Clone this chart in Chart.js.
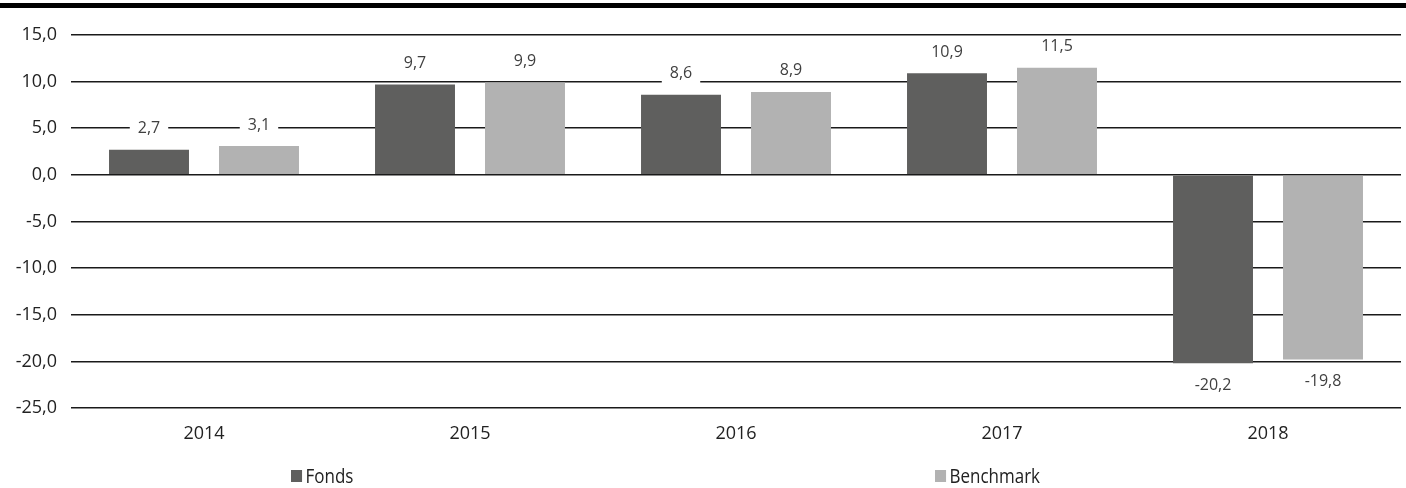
<!DOCTYPE html>
<html>
<head>
<meta charset="utf-8">
<script src="https://cdn.jsdelivr.net/npm/chart.js@4"></script>
<style>
  body { margin: 0; background: #fff; font-family: "Open Sans", sans-serif; }
  #wrap { position: relative; width: 1406px; height: 488px; }
  #topbar { position: absolute; left: 0; top: 3px; width: 1406px; height: 5px; background: #000; }
  .leg { position: absolute; top: 463px; font-size: 20px; line-height: 26px; color: #222; display: flex; align-items: center; transform: scaleX(0.85); transform-origin: left center; }
  .leg span.box { display: inline-block; width: 13px; height: 12px; margin-right: 4px; }
</style>
</head>
<body>
<div id="wrap">
  <canvas id="perfChart" width="1406" height="488"></canvas>
  <div id="topbar"></div>
  <div class="leg" style="left:291px"><span class="box" style="background:#5f5f5e"></span>Fonds</div>
  <div class="leg" style="left:935px"><span class="box" style="background:#b2b2b2"></span>Benchmark</div>
</div>
<script>
const years = ["2014", "2015", "2016", "2017", "2018"];
const fonds = [2.7, 9.7, 8.6, 10.9, -20.2];
const benchmark = [3.1, 9.9, 8.9, 11.5, -19.8];
const yTicks = [15, 10, 5, 0, -5, -10, -15, -20, -25];

const fmt = (v) => v.toFixed(1).replace(".", ",");

// value labels with white box over the gridlines
const valueLabels = {
  id: "valueLabels",
  afterDatasetsDraw(chart) {
    const c = chart.ctx;
    c.save();
    c.font = "16px 'Open Sans'";
    c.textAlign = "center";
    c.textBaseline = "middle";
    chart.data.datasets.forEach((ds, i) => {
      chart.getDatasetMeta(i).data.forEach((bar, j) => {
        const v = ds.data[j];
        const txt = fmt(v);
        const y = v >= 0 ? bar.y - 21 : bar.y + 22;
        const w = c.measureText(txt).width + 16;
        c.fillStyle = "#fff";
        c.fillRect(bar.x - w / 2, y - 10, w, 20);
        c.fillStyle = "#404040";
        c.fillText(txt, bar.x, y);
      });
    });
    c.restore();
  }
};

new Chart(document.getElementById("perfChart"), {
  type: "bar",
  data: {
    labels: years,
    datasets: [
      { label: "Fonds", data: fonds, backgroundColor: "#5f5f5e" },
      { label: "Benchmark", data: benchmark, backgroundColor: "#b2b2b2" }
    ]
  },
  options: {
    responsive: false,
    animation: false,
    categoryPercentage: 0.827,
    barPercentage: 0.727,
    layout: { padding: { top: 35, right: 5, bottom: 40, left: 1 } },
    plugins: {
      legend: { display: false },
      tooltip: { enabled: false }
    },
    scales: {
      x: {
        grid: { display: false },
        border: { display: false },
        ticks: { color: "#222", font: { family: "Open Sans", size: 18 }, padding: 7 },
        afterFit: (s) => { s.height = 40; }
      },
      y: {
        min: -25,
        max: 15,
        afterBuildTicks: (s) => { s.ticks = yTicks.map((v) => ({ value: v })); },
        afterFit: (s) => { s.width = 70; },
        grid: { color: "#1a1a1a", lineWidth: 1.6, drawTicks: false },
        border: { display: false },
        ticks: {
          color: "#222",
          font: { family: "Open Sans", size: 18 },
          padding: 14,
          callback: (v) => fmt(v)
        }
      }
    }
  },
  plugins: [valueLabels]
});
</script>
</body>
</html>
